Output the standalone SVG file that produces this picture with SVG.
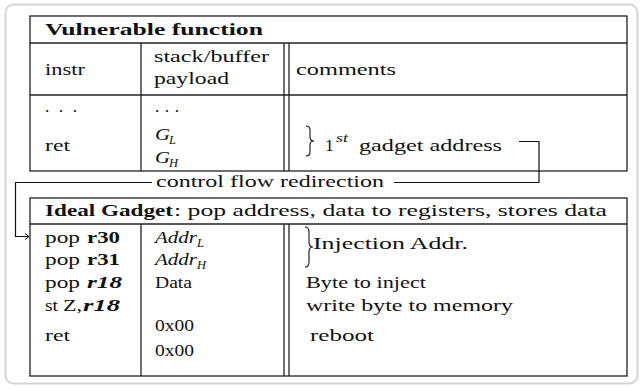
<svg xmlns="http://www.w3.org/2000/svg" width="644" height="388" viewBox="0 0 644 388">
<style>
text{font-family:"Liberation Serif","Times New Roman",serif;font-size:17.5px;fill:#111}
.b{font-weight:bold}
.i{font-style:italic}
.bi{font-weight:bold;font-style:italic}
.s{font-size:12.5px;font-style:italic}
.tl{fill:none;stroke:#222;stroke-width:1.3}
.br{fill:none;stroke:#111;stroke-width:1.1}
.cn{fill:none;stroke:#111;stroke-width:1.2}
</style>
<defs>
<marker id="ah" markerWidth="6" markerHeight="8" refX="5" refY="4" orient="auto" markerUnits="userSpaceOnUse">
<path d="M1,1 L5,4 L1,7" fill="none" stroke="#111" stroke-width="1"/>
</marker>
</defs>
<rect x="5.5" y="4.5" width="632" height="379" rx="8" fill="#fff" stroke="#d4d4d4" stroke-width="2"/>

<g id="vulnerable-function">
<rect class="tl" x="30" y="16" width="597" height="155"/>
<line class="tl" x1="30" y1="43" x2="627" y2="43"/>
<line class="tl" x1="30" y1="95" x2="627" y2="95"/>
<line class="tl" x1="141" y1="43" x2="141" y2="171"/>
<line class="tl" x1="284" y1="43" x2="284" y2="171"/>
<line class="tl" x1="289" y1="43" x2="289" y2="171"/>
<text class="b" x="45" y="35" textLength="218" lengthAdjust="spacingAndGlyphs">Vulnerable function</text>
<text x="45" y="75" textLength="40" lengthAdjust="spacingAndGlyphs">instr</text>
<text x="154" y="62" textLength="115" lengthAdjust="spacingAndGlyphs">stack/buffer</text>
<text x="154" y="84" textLength="75" lengthAdjust="spacingAndGlyphs">payload</text>
<text x="296" y="75" textLength="100" lengthAdjust="spacingAndGlyphs">comments</text>
<text x="45" y="112" textLength="32" lengthAdjust="spacing">. . .</text>
<text x="155" y="112" textLength="24" lengthAdjust="spacing">. . .</text>
<text x="45" y="151" textLength="25" lengthAdjust="spacingAndGlyphs">ret</text>
<text class="i" x="155" y="140" textLength="15" lengthAdjust="spacingAndGlyphs">G</text>
<text class="s" x="169" y="144">L</text>
<text class="i" x="155" y="163" textLength="15" lengthAdjust="spacingAndGlyphs">G</text>
<text class="s" x="169" y="167">H</text>
<path class="br" d="M306,126 Q310,126 310,130 L310,137 Q310,141 314,141 Q310,141 310,145 L310,152 Q310,156 306,156"/>
<text x="325" y="151">1</text>
<text class="s" x="336" y="142" textLength="12" lengthAdjust="spacingAndGlyphs">st</text>
<text x="359" y="151" textLength="143" lengthAdjust="spacingAndGlyphs">gadget address</text>
</g>

<g id="ideal-gadget">
<rect class="tl" x="30" y="198" width="597" height="178"/>
<line class="tl" x1="30" y1="224" x2="627" y2="224"/>
<line class="tl" x1="141" y1="224" x2="141" y2="376"/>
<line class="tl" x1="284" y1="224" x2="284" y2="376"/>
<line class="tl" x1="289" y1="224" x2="289" y2="376"/>
<text class="b" x="45" y="216" textLength="128" lengthAdjust="spacingAndGlyphs">Ideal Gadget</text>
<text x="174" y="216" textLength="433" lengthAdjust="spacingAndGlyphs">: pop address, data to registers, stores data</text>
<text x="45" y="243" textLength="35" lengthAdjust="spacingAndGlyphs">pop</text>
<text class="b" x="87" y="243" textLength="33" lengthAdjust="spacingAndGlyphs">r30</text>
<text x="45" y="265" textLength="35" lengthAdjust="spacingAndGlyphs">pop</text>
<text class="b" x="87" y="265" textLength="33" lengthAdjust="spacingAndGlyphs">r31</text>
<text x="45" y="288" textLength="35" lengthAdjust="spacingAndGlyphs">pop</text>
<text class="bi" x="87" y="288" textLength="35" lengthAdjust="spacingAndGlyphs">r18</text>
<text x="45" y="311" textLength="13" lengthAdjust="spacingAndGlyphs">st</text>
<text x="63" y="311" textLength="19" lengthAdjust="spacingAndGlyphs">Z,</text>
<text class="bi" x="83" y="311" textLength="37" lengthAdjust="spacingAndGlyphs">r18</text>
<text x="45" y="341" textLength="25" lengthAdjust="spacingAndGlyphs">ret</text>
<text class="i" x="155" y="243" textLength="42" lengthAdjust="spacingAndGlyphs">Addr</text>
<text class="s" x="197" y="247">L</text>
<text class="i" x="155" y="265" textLength="42" lengthAdjust="spacingAndGlyphs">Addr</text>
<text class="s" x="197" y="269">H</text>
<text x="155" y="288" textLength="37" lengthAdjust="spacingAndGlyphs">Data</text>
<text x="155" y="331" textLength="39" lengthAdjust="spacingAndGlyphs">0x00</text>
<text x="155" y="356" textLength="39" lengthAdjust="spacingAndGlyphs">0x00</text>
<path class="br" d="M305,227 Q309,227 309,232 L309,242 Q309,247 313,247 Q309,247 309,252 L309,262 Q309,267 305,267"/>
<text x="313" y="249" textLength="155" lengthAdjust="spacingAndGlyphs">Injection Addr.</text>
<text x="306" y="288" textLength="120" lengthAdjust="spacingAndGlyphs">Byte to inject</text>
<text x="306" y="311" textLength="207" lengthAdjust="spacingAndGlyphs">write byte to memory</text>
<text x="310" y="341" textLength="64" lengthAdjust="spacingAndGlyphs">reboot</text>
</g>

<g id="connectors">
<path class="cn" d="M519,141.5 H539 V182.5 H394"/>
<path class="cn" d="M152,182.5 H15.5 V236.5 H29" marker-end="url(#ah)"/>
<text x="156" y="187" textLength="228" lengthAdjust="spacingAndGlyphs">control flow redirection</text>
</g>
</svg>
